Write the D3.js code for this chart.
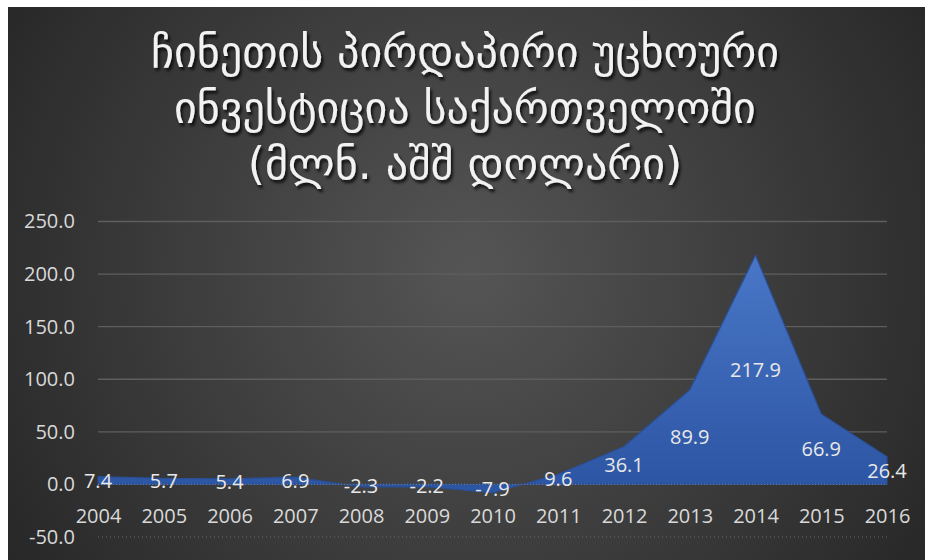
<!DOCTYPE html>
<html>
<head>
<meta charset="utf-8">
<script src="https://cdn.jsdelivr.net/npm/d3@7"></script>
<style>
  html, body { margin: 0; padding: 0; background: #fff; }
  svg { display: block; }
</style>
</head>
<body>
<div id="chart"></div>
<script>
const years = [2004, 2005, 2006, 2007, 2008, 2009, 2010, 2011, 2012, 2013, 2014, 2015, 2016]
const fdi = [7.4, 5.7, 5.4, 6.9, -2.3, -2.2, -7.9, 9.6, 36.1, 89.9, 217.9, 66.9, 26.4]
const yTicks = [-50, 0, 50, 100, 150, 200, 250]
const titleLines = [
    "ჩინეთის პირდაპირი უცხოური",
    "ინვესტიცია საქართველოში",
    "(მლნ. აშშ დოლარი)"
]

const W = 925, H = 560
const PLOT = { left: 98, right: 887, top: 221.5, bottom: 537 }

// plain hyphen for negatives, like the original
const fmt = d => d.toFixed(1)

const svg = d3.select("#chart")
    .append("svg")
    .attr("width", W)
    .attr("height", H)

const defs = svg.append("defs")

const bg = defs.append("radialGradient")
    .attr("id", "bg")
    .attr("gradientUnits", "userSpaceOnUse")
    .attr("cx", 470).attr("cy", 270).attr("r", 560)
bg.append("stop").attr("offset", "0%").attr("stop-color", "#555555")
bg.append("stop").attr("offset", "100%").attr("stop-color", "#262626")

const areaFill = defs.append("linearGradient")
    .attr("id", "areaFill")
    .attr("gradientUnits", "userSpaceOnUse")
    .attr("x1", 0).attr("y1", 250).attr("x2", 0).attr("y2", 490)
areaFill.append("stop").attr("offset", "0%").attr("stop-color", "#4a77c8")
areaFill.append("stop").attr("offset", "100%").attr("stop-color", "#2c55a3")

const shadow = defs.append("filter")
    .attr("id", "shadow")
    .attr("x", "-10%").attr("y", "-30%").attr("width", "120%").attr("height", "160%")
shadow.append("feDropShadow")
    .attr("dx", 2).attr("dy", 3).attr("stdDeviation", 1.5)
    .attr("flood-color", "#000").attr("flood-opacity", 0.8)

svg.append("rect")
    .attr("x", 8).attr("y", 7)
    .attr("width", W - 8).attr("height", H - 7)
    .attr("fill", "url(#bg)")

// title
svg.append("g")
    .attr("filter", "url(#shadow)")
    .selectAll("text")
    .data(titleLines)
    .join("text")
    .attr("x", 465)
    .attr("y", (d, i) => 67 + i * 56)
    .attr("text-anchor", "middle")
    .attr("fill", "#f2f2f2")
    .style("font-family", "'DejaVu Sans', sans-serif")
    .style("font-size", "44px")
    .text(d => d)

const x = d3.scalePoint()
    .domain(years)
    .range([PLOT.left, PLOT.right])

const y = d3.scaleLinear()
    .domain([-50, 250])
    .range([PLOT.bottom, PLOT.top])

// gridlines
svg.append("g")
    .selectAll("line")
    .data(yTicks.filter(t => t > 0))
    .join("line")
    .attr("x1", PLOT.left).attr("x2", PLOT.right)
    .attr("y1", d => y(d)).attr("y2", d => y(d))
    .attr("stroke", "#5e5e5e")
    .attr("stroke-width", 1.3)

svg.append("line")
    .attr("x1", PLOT.left).attr("x2", PLOT.right)
    .attr("y1", y(-50)).attr("y2", y(-50))
    .attr("stroke", "#6a6a6a")
    .attr("stroke-dasharray", "1,3")

// area
const area = d3.area()
    .x((d, i) => x(years[i]))
    .y0(y(0))
    .y1(d => y(d))

svg.append("path")
    .datum(fdi)
    .attr("d", area)
    .attr("fill", "url(#areaFill)")
    .attr("stroke", "#2a4f95")
    .attr("stroke-width", 1.2)
    .attr("stroke-linejoin", "round")

// zero axis line (dotted)
svg.append("line")
    .attr("x1", PLOT.left).attr("x2", PLOT.right)
    .attr("y1", y(0)).attr("y2", y(0))
    .attr("stroke", "#7a7a7a")
    .attr("stroke-dasharray", "1,2")

// y axis labels
const yAxis = svg.append("g")
    .attr("transform", `translate(${PLOT.left},0)`)
    .call(d3.axisLeft(y).tickValues(yTicks).tickSize(0).tickPadding(23).tickFormat(fmt))
yAxis.select(".domain").remove()
yAxis.selectAll("text")
    .attr("fill", "#d9d9d9")
    .style("font-family", "'Open Sans', sans-serif")
    .style("font-size", "20px")

// x axis labels
const xAxis = svg.append("g")
    .attr("transform", `translate(0,${y(0)})`)
    .call(d3.axisBottom(x).tickSize(0))
xAxis.select(".domain").remove()
xAxis.selectAll("text")
    .attr("y", 38.5)
    .attr("dy", 0)
    .attr("fill", "#d9d9d9")
    .style("font-family", "'Open Sans', sans-serif")
    .style("font-size", "20px")

// data labels at mid-height of the area
svg.append("g")
    .selectAll("text")
    .data(fdi)
    .join("text")
    .attr("x", (d, i) => x(years[i]))
    .attr("y", d => y(d / 2))
    .attr("dy", "0.35em")
    .attr("text-anchor", "middle")
    .attr("fill", "#e8e8e8")
    .style("font-family", "'Open Sans', sans-serif")
    .style("font-size", "20px")
    .text(d => fmt(d))
</script>
</body>
</html>
